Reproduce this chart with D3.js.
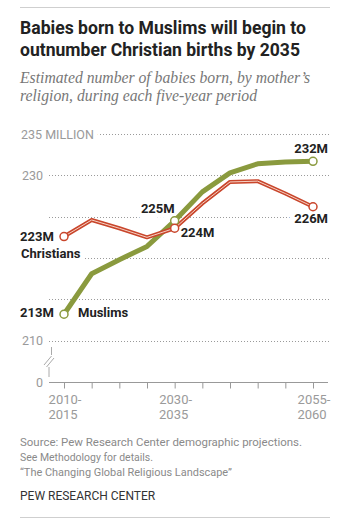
<!DOCTYPE html>
<html><head><meta charset="utf-8">
<script src="https://cdn.jsdelivr.net/npm/d3@7"></script>
<style>
body{margin:0;background:#fff;}
svg{display:block;}
</style></head>
<body>
<svg id="c" width="361" height="531"></svg>
<script>
const periods = ["2010-2015","2015-2020","2020-2025","2025-2030","2030-2035","2035-2040","2040-2045","2045-2050","2050-2055","2055-2060"];
const muslims = [213.2, 218.1, 219.8, 221.4, 224.5, 228.0, 230.3, 231.4, 231.6, 231.7];
const christians = [222.6, 224.6, 223.6, 222.5, 223.6, 226.6, 229.2, 229.3, 227.8, 226.2];
const gridTicks = [235, 230, 225, 220, 215, 210];
const labeledTicks = [235, 230, 210];
const xLabelIdx = [0, 4, 9];

const svg = d3.select("#c");
const titleFont = "Roboto, 'Liberation Sans', sans-serif";
const grayC = "#9a9a9a";

// top/bottom rules
svg.append("line").attr("x1",20).attr("x2",330).attr("y1",7.5).attr("y2",7.5).attr("stroke","#cfcfcf");
svg.append("line").attr("x1",20).attr("x2",330).attr("y1",517.5).attr("y2",517.5).attr("stroke","#cfcfcf");

// title
const title = svg.append("text").attr("font-family",titleFont).attr("font-weight",700).attr("font-size",19).attr("fill","#222");
title.append("tspan").attr("x",20).attr("y",34).attr("textLength",286).attr("lengthAdjust","spacingAndGlyphs").text("Babies born to Muslims will begin to");
title.append("tspan").attr("x",20).attr("y",56).attr("textLength",280).attr("lengthAdjust","spacingAndGlyphs").text("outnumber Christian births by 2035");

const sub = svg.append("text").attr("font-family","'Liberation Serif', 'DejaVu Serif', serif").attr("font-style","italic").attr("font-size",16).attr("fill","#777");
sub.append("tspan").attr("x",20).attr("y",83).attr("textLength",290).attr("lengthAdjust","spacingAndGlyphs").text("Estimated number of babies born, by mother\u2019s");
sub.append("tspan").attr("x",20).attr("y",101).attr("textLength",237).attr("lengthAdjust","spacingAndGlyphs").text("religion, during each five-year period");

// scales
const x = d3.scalePoint().domain(d3.range(periods.length)).range([64, 313]);
const y = d3.scaleLinear().domain([210, 235]).range([340.7, 134]);
const y0 = 382.5;

// gridlines
svg.append("g").selectAll("line").data(gridTicks).join("line")
  .attr("x1",49).attr("x2",330)
  .attr("y1",d=>Math.round(y(d))+0.5).attr("y2",d=>Math.round(y(d))+0.5)
  .attr("stroke","#9a9a9a").attr("stroke-width",1).attr("stroke-dasharray","1,2");

// y labels
const yl = svg.append("g").attr("font-family",titleFont).attr("font-size",12.5).attr("fill",grayC);
labeledTicks.forEach((t,i)=>{
  const txt = yl.append("text").attr("y",y(t)+4.5).attr("stroke","#fff").attr("stroke-width",10).attr("paint-order","stroke").attr("stroke-linejoin","round");
  if(i===0){ txt.attr("x",21).attr("text-anchor","start").text(t+" MILLION"); }
  else { txt.attr("x",43).attr("text-anchor","end").text(t); }
});
yl.append("text").attr("x",43).attr("y",y0+4.5).attr("text-anchor","end").text("0");

// baseline axis
const xAxis = d3.axisBottom(x).tickSize(6).tickFormat("");
const ax = svg.append("g").attr("transform",`translate(0,${y0})`).call(xAxis);
ax.select(".domain").remove();
ax.selectAll(".tick line").attr("stroke","#999");
svg.append("line").attr("x1",49).attr("x2",328).attr("y1",y0).attr("y2",y0).attr("stroke","#999");

// axis break
const br = svg.append("g").attr("stroke","#aaa").attr("stroke-width",1).attr("fill","none");
br.append("line").attr("x1",51.5).attr("x2",51.5).attr("y1",347).attr("y2",355);
br.append("line").attr("x1",44).attr("x2",51.5).attr("y1",365).attr("y2",356);
br.append("line").attr("x1",46.5).attr("x2",54).attr("y1",367).attr("y2",358);
br.append("line").attr("x1",49).attr("x2",49).attr("y1",367).attr("y2",377);

// x labels
const xl = svg.append("g").attr("font-family",titleFont).attr("font-size",13).attr("fill",grayC).attr("text-anchor","middle");
xLabelIdx.forEach(i=>{
  const [a,b] = periods[i].split("-");
  const t = xl.append("text");
  t.append("tspan").attr("x",x(i)+1).attr("y",404).text(a+"-");
  t.append("tspan").attr("x",x(i)-1).attr("y",419).text(b);
});

// data labels with halos
const lab = svg.append("g").attr("font-family",titleFont).attr("font-weight",700).attr("font-size",13).attr("fill","#222")
  .attr("stroke","#fff").attr("stroke-width",10).attr("paint-order","stroke").attr("stroke-linejoin","round");
const last = periods.length-1;
lab.append("text").attr("x",20).attr("y",y(christians[0])+4).text(Math.round(christians[0])+"M");
lab.append("text").attr("x",21).attr("y",258).text("Christians");
lab.append("text").attr("x",20).attr("y",y(muslims[0])+3).text(Math.round(muslims[0])+"M");
lab.append("text").attr("x",78).attr("y",y(muslims[0])+3).text("Muslims");
lab.append("text").attr("x",x(4)).attr("y",y(muslims[4])-8).attr("text-anchor","end").text(Math.round(muslims[4])+"M");
lab.append("text").attr("x",x(4)+6).attr("y",y(christians[4])+9).text(Math.round(christians[4])+"M");
lab.append("text").attr("x",x(last)+15).attr("y",y(muslims[last])-8).attr("text-anchor","end").text(Math.round(muslims[last])+"M");
lab.append("text").attr("x",x(last)+15).attr("y",y(christians[last])+16).attr("text-anchor","end").text(Math.round(christians[last])+"M");

// lines
const line = d3.line().x((d,i)=>x(i)).y(d=>y(d));
const mC = "#8a9a3e", cC = "#c9462c";
svg.append("path").datum(muslims).attr("d",line).attr("fill","none").attr("stroke",mC).attr("stroke-width",5).attr("stroke-linejoin","round");
svg.append("path").datum(christians).attr("d",line).attr("fill","none").attr("stroke",cC).attr("stroke-width",4).attr("stroke-linejoin","round");
svg.append("path").datum(christians).attr("d",line).attr("fill","none").attr("stroke","#f6d3c6").attr("stroke-width",1).attr("stroke-linejoin","round");

// end markers
const marks = [[muslims,0,mC],[muslims,4,mC],[muslims,last,mC],[christians,0,cC],[christians,4,cC],[christians,last,cC]];
svg.selectAll("circle.m").data(marks).join("circle")
  .attr("cx",d=>x(d[1])).attr("cy",d=>y(d[0][d[1]])).attr("r",4)
  .attr("fill","#fff").attr("stroke",d=>d[2]).attr("stroke-width",1.5);

// source
const src = svg.append("g").attr("font-family",titleFont).attr("font-size",11).attr("fill","#8a8a8a");
src.append("text").attr("x",20).attr("y",446).attr("textLength",282).attr("lengthAdjust","spacingAndGlyphs").text("Source: Pew Research Center demographic projections.");
src.append("text").attr("x",20).attr("y",461).attr("textLength",133).attr("lengthAdjust","spacingAndGlyphs").text("See Methodology for details.");
src.append("text").attr("x",20).attr("y",476).attr("textLength",212).attr("lengthAdjust","spacingAndGlyphs").text("\u201cThe Changing Global Religious Landscape\u201d");
svg.append("text").attr("x",20).attr("y",500).attr("font-family",titleFont).attr("font-size",12).attr("fill","#333").text("PEW RESEARCH CENTER");
</script>
</body></html>
